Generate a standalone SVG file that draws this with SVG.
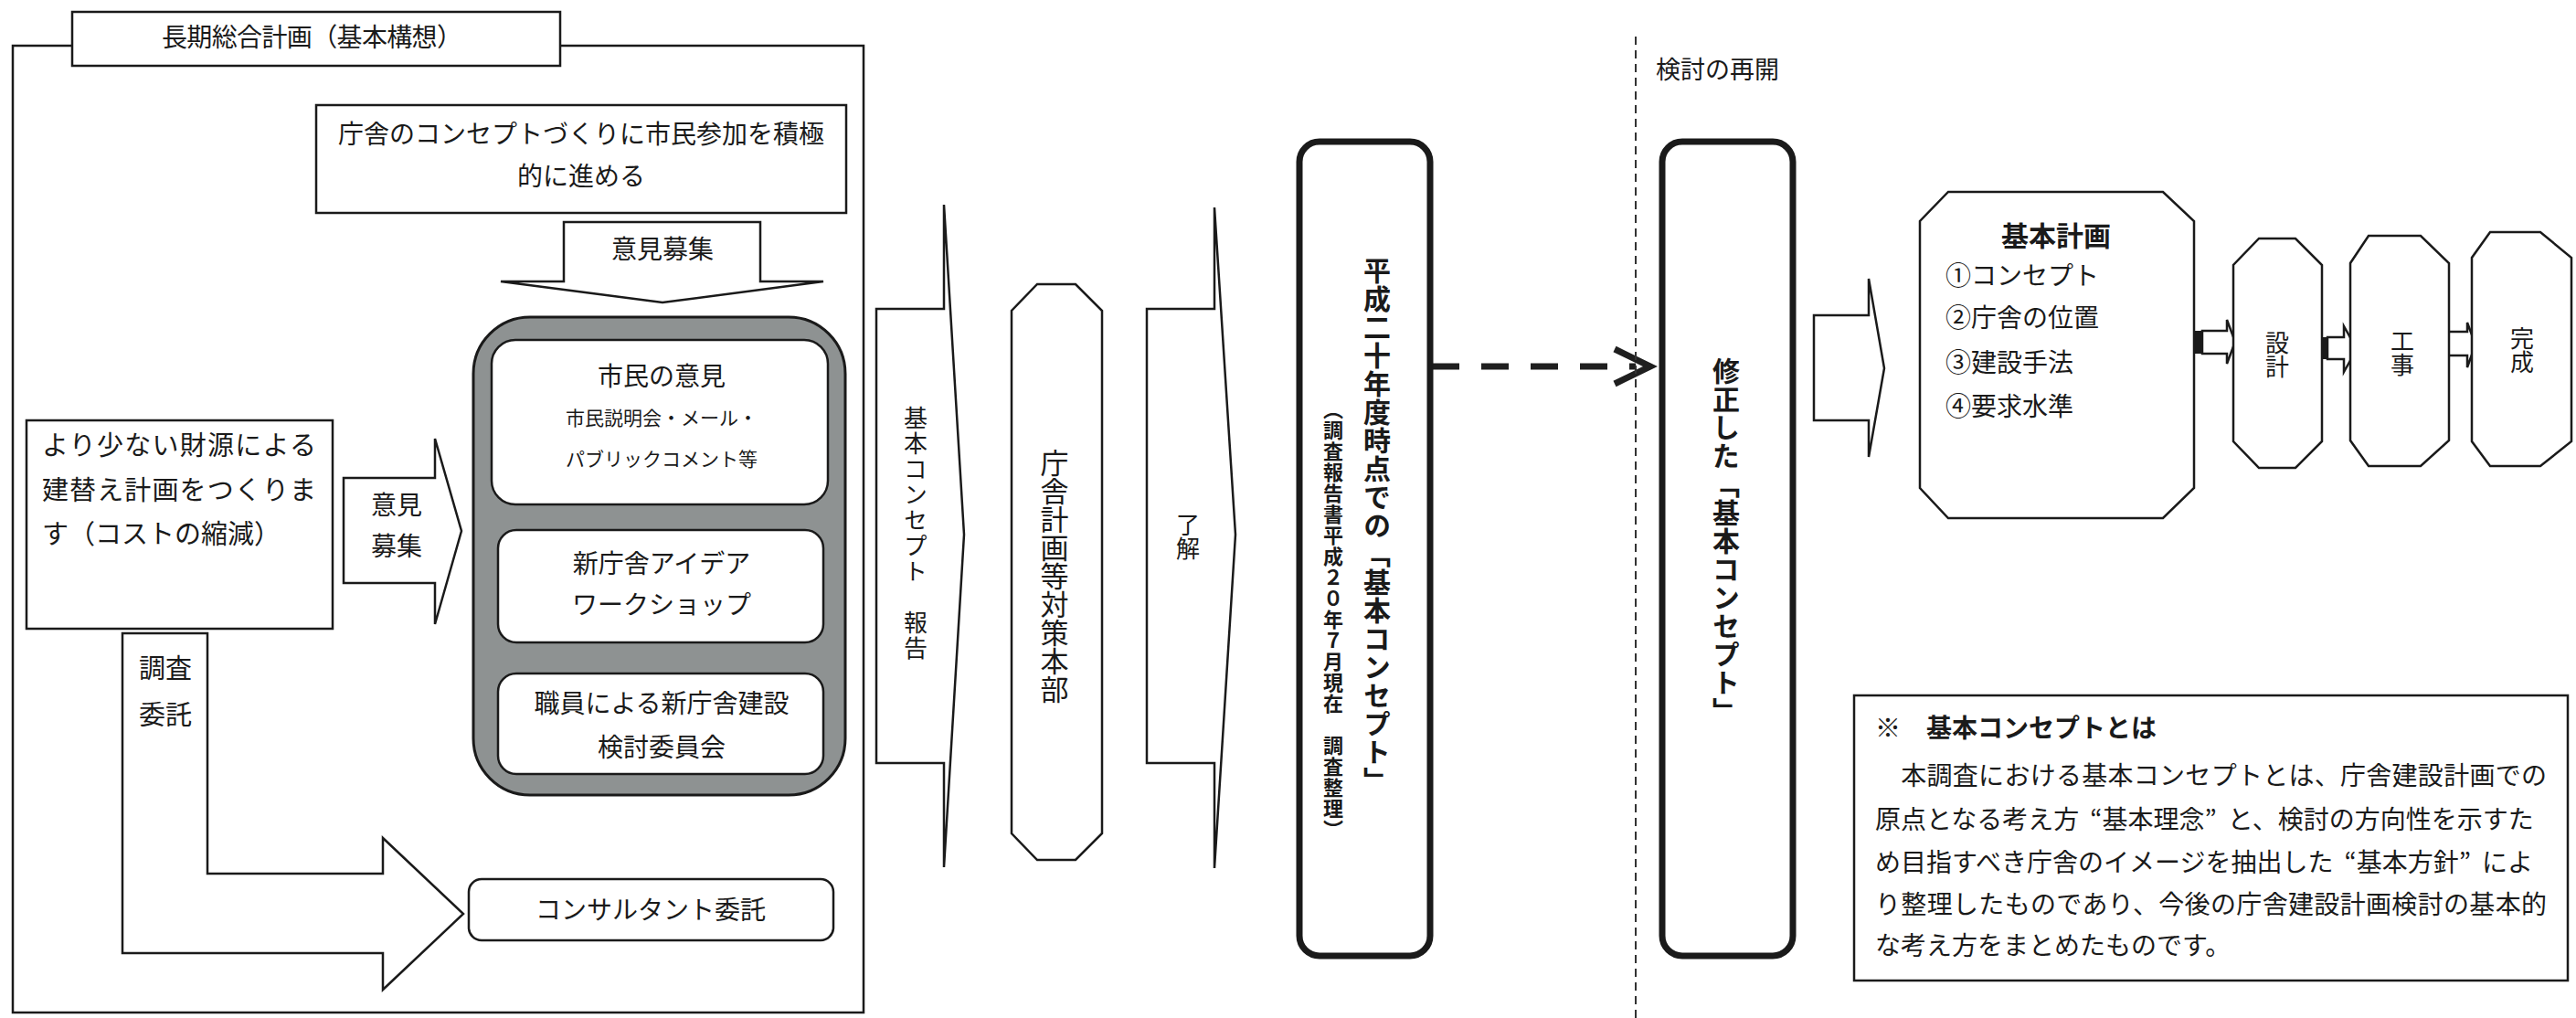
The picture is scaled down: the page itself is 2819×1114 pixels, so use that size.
<svg xmlns="http://www.w3.org/2000/svg" width="2819" height="1114" viewBox="0 0 2819 1114">
<style>
.ln{fill:#fff;stroke:#1a1a1a;stroke-width:2.5}
.thick{fill:#fff;stroke:#1a1a1a;stroke-width:7}
.m{font-family:'Liberation Serif','Noto Sans CJK JP',serif;fill:#1a1a1a;dominant-baseline:central}
.g{font-family:'Noto Sans CJK JP','Liberation Sans',sans-serif;fill:#1a1a1a}
.n{font-family:'Noto Sans CJK JP','Noto Sans CJK SC',sans-serif;fill:#1a1a1a;dominant-baseline:central}
.v{writing-mode:vertical-rl;text-anchor:middle}
.c{text-anchor:middle}
</style>
<rect x="0" y="0" width="2819" height="1114" fill="#fff"/>

<g id="frame">
<rect x="14" y="50" width="931" height="1058" fill="none" stroke="#1a1a1a" stroke-width="2.5"/>
</g>
<g id="title">
<rect class="ln" x="79" y="13" width="534" height="59"/>
<text class="m" x="177" y="41" font-size="28" textLength="329">長期総合計画（基本構想）</text>
</g>

<g id="concept-box">
<rect class="ln" x="346" y="115" width="580" height="118"/>
<text class="m c" x="636" y="147" font-size="28">庁舎のコンセプトづくりに市民参加を積極</text>
<text class="m c" x="636" y="193" font-size="28">的に進める</text>
</g>

<g id="cost-box">
<rect class="ln" x="29" y="460" width="335" height="228"/>
<text class="m" x="46" y="488" font-size="29" textLength="300">より少ない財源による</text>
<text class="m" x="46" y="537" font-size="29" textLength="300">建替え計画をつくりま</text>
<text class="m" x="46" y="585" font-size="29">す（コストの縮減）</text>
</g>

<g id="citizens-group">
<rect x="518" y="347" width="407" height="523" rx="62" fill="#8e9292" stroke="#1a1a1a" stroke-width="3"/>
<g id="opinion">
<rect class="ln" x="538" y="372" width="368" height="180" rx="26"/>
<text class="m c" x="724" y="412" font-size="28">市民の意見</text>
<text class="m c" x="724" y="458" font-size="21">市民説明会・メール・</text>
<text class="m c" x="724" y="503" font-size="21">パブリックコメント等</text>
</g>
<g id="workshop">
<rect class="ln" x="545" y="580" width="356" height="123" rx="20"/>
<text class="m c" x="724" y="617" font-size="28">新庁舎アイデア</text>
<text class="m c" x="724" y="662" font-size="28">ワークショップ</text>
</g>
<g id="staff">
<rect class="ln" x="545" y="737" width="356" height="110" rx="20"/>
<text class="m c" x="724" y="770" font-size="28">職員による新庁舎建設</text>
<text class="m c" x="724" y="818" font-size="28">検討委員会</text>
</g>
</g>

<g id="consultant">
<rect class="ln" x="513" y="962" width="399" height="67" rx="14"/>
<text class="m c" x="712" y="996" font-size="28">コンサルタント委託</text>
</g>

<g id="connectors">
<polygon class="ln" points="617,243 832,243 832,308 901,308 725,331 548,308 617,308"/>
<text class="m c" x="725" y="273" font-size="28">意見募集</text>
<polygon class="ln" points="376,523 476,523 476,480 505,581 476,683 476,638 376,638"/>
<text class="m c" x="434" y="553" font-size="28">意見</text>
<text class="m c" x="434" y="598" font-size="28">募集</text>
<polygon class="ln" points="134,693 227,693 227,956 419,956 419,917 507,1000 419,1083 419,1043 134,1043"/>
<text class="m c" x="181" y="732" font-size="29">調査</text>
<text class="m c" x="181" y="783" font-size="29">委託</text>
<polygon class="ln" points="959,338 1033,338 1033,224 1055,585 1033,949 1033,835 959,835"/>
<text class="g v" x="1002" y="584" font-size="26" letter-spacing="2">基本コンセプト　報告</text>
<polygon class="ln" points="1255,338 1329,338 1329,227 1352,585 1329,950 1329,835 1255,835"/>
<text class="g v" x="1300" y="587" font-size="26">了解</text>
<line x1="1567" y1="401" x2="1790" y2="401" stroke="#1f1f1f" stroke-width="7" stroke-dasharray="30 24"/>
<polyline points="1767,382 1806,401 1767,420" fill="none" stroke="#1f1f1f" stroke-width="7" stroke-linejoin="miter"/>
<polygon class="ln" points="1985,345 2045,345 2045,305 2062,403 2045,500 2045,460 1985,460"/>
<rect x="2401" y="362" width="9" height="25" fill="#1a1a1a"/>
<polygon class="ln" stroke-width="2" points="2410,362 2437,362 2437,350 2446,374 2437,398 2437,387 2410,387"/>
<rect x="2538" y="369" width="9" height="24" fill="#1a1a1a"/>
<polygon class="ln" stroke-width="2" points="2547,369 2565,369 2565,357 2579,382 2565,407 2565,393 2547,393"/>
<rect x="2665" y="363" width="9" height="26" fill="#1a1a1a"/>
<polygon class="ln" stroke-width="2" points="2674,363 2700,363 2700,353 2709,377 2700,402 2700,389 2674,389"/>
</g>

<g id="taisaku">
<polygon class="ln" points="1135,311 1177,311 1206,340 1206,912 1177,941 1135,941 1107,912 1107,340"/>
<text class="g v" x="1154" y="630" font-size="31">庁舎計画等対策本部</text>
</g>

<g id="concept-h20">
<rect class="thick" x="1422" y="155" width="143" height="891" rx="22"/>
<text class="g v" x="1507" y="575" font-size="30" font-weight="bold" letter-spacing="1">平成二十年度時点での「基本コンセプト」</text>
<text class="g v" x="1459" y="678" font-size="22" font-weight="bold" letter-spacing="1">（調査報告書平成２０年７月現在　調査整理）</text>
</g>

<g id="divider">
<line x1="1790" y1="40" x2="1790" y2="1114" stroke="#333" stroke-width="2" stroke-dasharray="9 6"/>
<text class="m" x="1812" y="77" font-size="27">検討の再開</text>
</g>

<g id="concept-revised">
<rect class="thick" x="1819" y="155" width="143" height="891" rx="22"/>
<text class="g v" x="1889" y="592" font-size="30" font-weight="bold" letter-spacing="1">修正した「基本コンセプト」</text>
</g>

<g id="kihon-keikaku">
<polygon class="ln" points="2132,210 2367,210 2401,242 2401,534 2367,567 2132,567 2101,534 2101,242"/>
<text class="g c" x="2250" y="256" font-size="30" font-weight="bold" dominant-baseline="central">基本計画</text>
<text class="m" x="2129" y="302" font-size="28">①コンセプト</text>
<text class="m" x="2129" y="348" font-size="28">②庁舎の位置</text>
<text class="m" x="2129" y="397" font-size="28">③建設手法</text>
<text class="m" x="2129" y="445" font-size="28">④要求水準</text>
</g>

<g id="sekkei">
<polygon class="ln" points="2472,261 2512,261 2541,290 2541,483 2512,512 2472,512 2444,483 2444,290"/>
<text class="g v" x="2492" y="388" font-size="26">設計</text>
</g>
<g id="kouji">
<polygon class="ln" points="2592,258 2649,258 2680,288 2680,482 2649,510 2592,510 2572,482 2572,288"/>
<text class="g v" x="2629" y="386" font-size="26">工事</text>
</g>
<g id="kansei">
<polygon class="ln" points="2725,254 2780,254 2814,282 2814,483 2780,510 2725,510 2705,483 2705,282"/>
<text class="g v" x="2760" y="383" font-size="26">完成</text>
</g>

<g id="note">
<rect class="ln" x="2029" y="761" width="781" height="312"/>
<text class="g" x="2052" y="795" font-size="28" font-weight="bold" dominant-baseline="central">※　基本コンセプトとは</text>
<text class="n" x="2052" y="847" font-size="28" textLength="735">　本調査における基本コンセプトとは、庁舎建設計画での</text>
<text class="n" x="2052" y="895" font-size="28">原点となる考え方<tspan dx="12">“</tspan>基本理念<tspan>”</tspan><tspan dx="12">と、検討の方向性を示すた</tspan></text>
<text class="n" x="2052" y="942" font-size="28">め目指すべき庁舎のイメージを抽出した<tspan dx="12">“</tspan>基本方針<tspan>”</tspan><tspan dx="12">によ</tspan></text>
<text class="n" x="2052" y="988" font-size="28" textLength="735">り整理したものであり、今後の庁舎建設計画検討の基本的</text>
<text class="n" x="2052" y="1033" font-size="28">な考え方をまとめたものです。</text>
</g>
</svg>
